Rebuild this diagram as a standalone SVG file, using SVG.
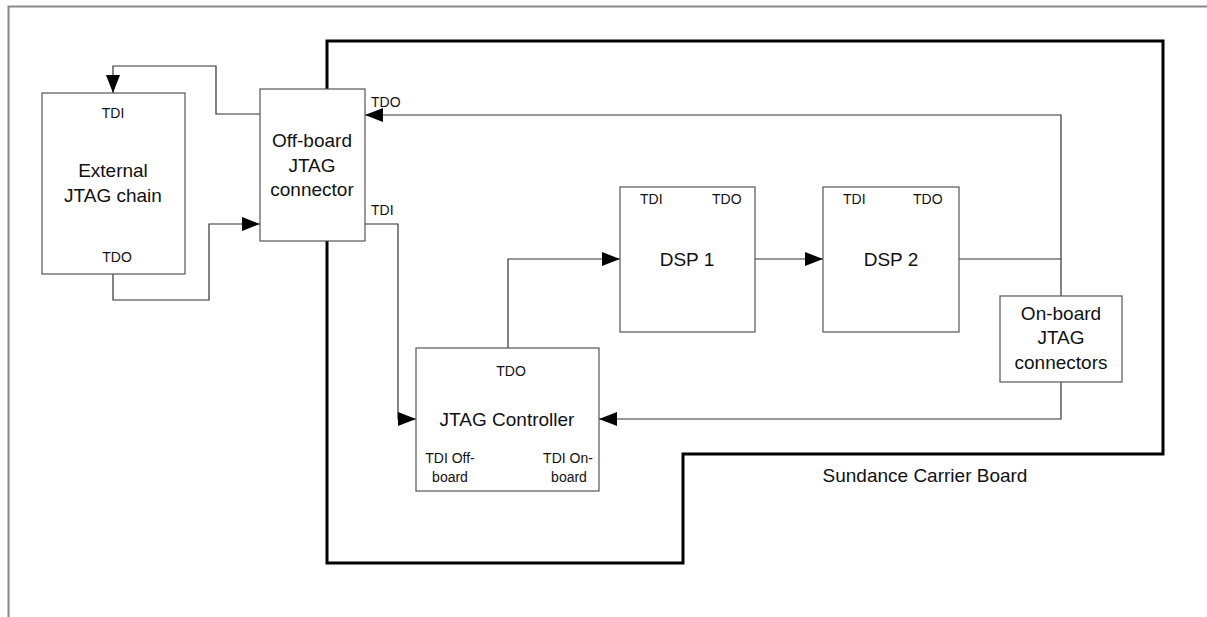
<svg xmlns="http://www.w3.org/2000/svg" width="1207" height="617" viewBox="0 0 1207 617">
<style>
text{font-family:"Liberation Sans",Arial,sans-serif;fill:#111}
.big{font-size:19px;text-anchor:middle}
.sm{font-size:14px}
.box{fill:#fff;stroke:#555;stroke-width:1.2}
.c{fill:none;stroke:#333;stroke-width:1.2}
</style>
<defs>
<marker id="a" markerWidth="18" markerHeight="14" refX="18" refY="7" orient="auto" markerUnits="userSpaceOnUse"><path d="M0,0 L18,7 L0,14z" fill="#000"/></marker>
</defs>
<rect width="1207" height="617" fill="#fff"/>
<path d="M8.5,617 V6.5 H1207" fill="none" stroke="#888" stroke-width="2"/>
<g id="board">
<polygon points="327,41 1163,41 1163,454 683,454 683,563 327,563" fill="none" stroke="#000" stroke-width="3"/>
<text class="big" x="925" y="482">Sundance Carrier Board</text>
</g>
<g id="connectors">
<path class="c" d="M260,114 H216 V66 H113 V93" marker-end="url(#a)"/>
<path class="c" d="M113,274 V300 H209 V224 H260" marker-end="url(#a)"/>
<path class="c" d="M1061,296 V115 H365" marker-end="url(#a)"/>
<path class="c" d="M959,259 H1061"/>
<path class="c" d="M365,224 H398 V419 H416" marker-end="url(#a)"/>
<path class="c" d="M508,348 V259 H620" marker-end="url(#a)"/>
<path class="c" d="M755,259 H823" marker-end="url(#a)"/>
<path class="c" d="M1061,382 V419 H599" marker-end="url(#a)"/>
</g>
<g id="external">
<rect class="box" x="42" y="93" width="143" height="181"/>
<text class="sm" x="113" y="118" text-anchor="middle">TDI</text>
<text class="big" x="113" y="177">External</text>
<text class="big" x="113" y="202">JTAG chain</text>
<text class="sm" x="117" y="262" text-anchor="middle">TDO</text>
</g>
<g id="offboard">
<rect class="box" x="260" y="89" width="105" height="152"/>
<text class="big" x="312" y="147">Off-board</text>
<text class="big" x="312" y="172">JTAG</text>
<text class="big" x="312" y="196">connector</text>
<text class="sm" x="371" y="107">TDO</text>
<text class="sm" x="371" y="215">TDI</text>
</g>
<g id="controller">
<rect class="box" x="416" y="348" width="183" height="143"/>
<text class="sm" x="511" y="376" text-anchor="middle">TDO</text>
<text class="big" x="507" y="426">JTAG Controller</text>
<text class="sm" x="450" y="463" text-anchor="middle">TDI Off-</text>
<text class="sm" x="450" y="482" text-anchor="middle">board</text>
<text class="sm" x="568" y="463" text-anchor="middle">TDI On-</text>
<text class="sm" x="569" y="482" text-anchor="middle">board</text>
</g>
<g id="dsp1">
<rect class="box" x="620" y="187" width="135" height="145"/>
<text class="sm" x="640" y="204">TDI</text>
<text class="sm" x="712" y="204">TDO</text>
<text class="big" x="687" y="266">DSP 1</text>
</g>
<g id="dsp2">
<rect class="box" x="823" y="187" width="136" height="145"/>
<text class="sm" x="843" y="204">TDI</text>
<text class="sm" x="913" y="204">TDO</text>
<text class="big" x="891" y="266">DSP 2</text>
</g>
<g id="onboard">
<rect class="box" x="1000" y="296" width="122" height="86"/>
<text class="big" x="1061" y="320">On-board</text>
<text class="big" x="1061" y="344">JTAG</text>
<text class="big" x="1061" y="369">connectors</text>
</g>
</svg>
